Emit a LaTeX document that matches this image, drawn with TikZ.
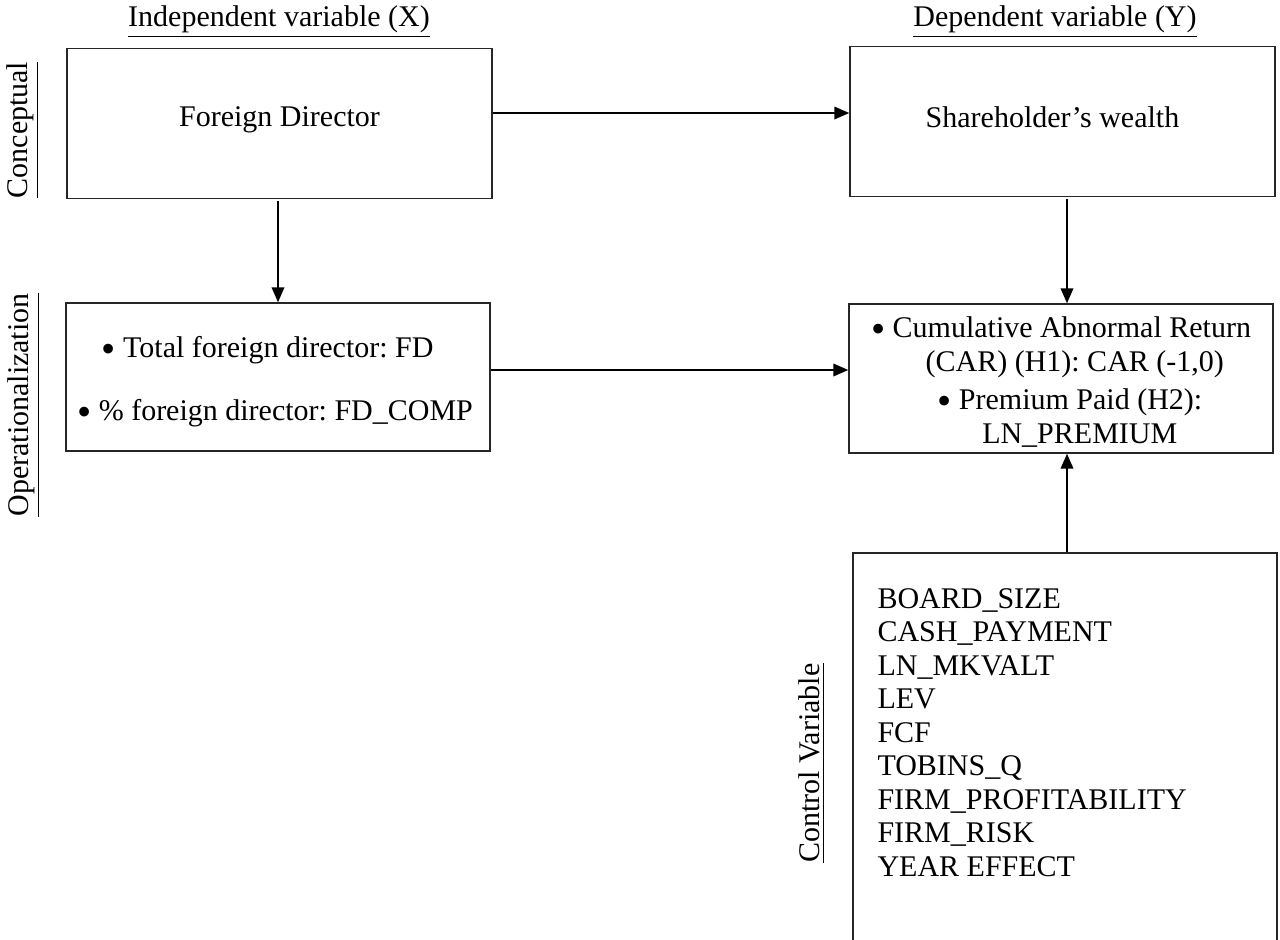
\documentclass[tikz,border=0pt]{standalone}
\usepackage{fontspec}
\usepackage{graphicx}
\setmainfont{Liberation Serif}
\usetikzlibrary{arrows.meta}
\newcommand{\bul}{\raisebox{-1.9pt}{\scalebox{1.35}{•}}}
\newcommand{\shiftv}[2]{\raisebox{#1}[\height][\depth]{#2}}
\begin{document}
\frenchspacing
\begin{tikzpicture}[x=0.4pt,y=-0.4pt,
  box/.style={draw=black!85,line width=0.55pt,inner sep=0pt,minimum width=170pt,minimum height=60pt,font=\fontsize{12}{13.6}\selectfont\frenchspacing,align=center},
  arr/.style={line width=0.8pt,-{Triangle[length=6pt,width=5pt]}},
  lbl/.style={font=\fontsize{12}{13.4}\selectfont\frenchspacing,inner sep=0pt},
]
\useasboundingbox (0,0) rectangle (1280,940);
\clip (0,0) rectangle (1280,940);

% headers
\node[lbl] (hX) at (279,22) {\underline{Independent variable (X)}};
\node[lbl] (hY) at (1055,22) {\underline{Dependent variable (Y)}};

% side labels
\node[lbl,rotate=90] (lC) at (23,130) {\underline{Conceptual}};
\node[lbl,rotate=90] (lO) at (24,405) {\underline{Operationalization}};
\node[lbl,rotate=90] (lV) at (812,763) {\underline{Control Variable}};

% boxes
\node[box] (FD) at (279.5,123.5) {\shiftv{1.6pt}{Foreign Director}};
\node[box] (SW) at (1062.5,121.5) {\shiftv{1.8pt}{Shareholder’s wealth\hspace*{8pt}}};
\node[box,minimum height=59.2pt,minimum width=169.6pt] (Op) at (278,377)
  {\shiftv{-2pt}{\begin{tabular}{@{}c@{}}
   \bul\ Total foreign director: FD\hspace*{8.4pt}\\[11.6pt]
   \bul\ \% foreign director: FD\_COMP\hspace*{2.4pt}\end{tabular}}};
\node[box,minimum height=59.6pt,minimum width=169.6pt] (CAR) at (1061,378.5)
  {\shiftv{-2pt}{\begin{tabular}{@{}c@{}}
   \bul\ Cumulative Abnormal Return\\
   \hspace*{11pt}(CAR) (H1): CAR (-1,0)\\[1.6pt]
   \hspace*{7pt}\bul\ Premium Paid (H2):\\
   \hspace*{15pt}LN\_PREMIUM\end{tabular}}};
\node[box,minimum height=178.8pt,minimum width=169.6pt] (Ctrl) at (1065,776.5) {};
\node[lbl,anchor=north west,align=left] (ctxt) at (877,588)
  {BOARD\_SIZE\\ CASH\_PAYMENT\\ LN\_MKVALT\\ LEV\\ FCF\\ TOBINS\_Q\\
   FIRM\_PROFITABILITY\\ FIRM\_RISK\\ YEAR EFFECT};

% helper coordinates
\coordinate (yA) at (0,113);
\coordinate (yB) at (0,370);
\coordinate (xL) at (278,0);
\coordinate (xR) at (1067,0);

% connectors
\draw[arr] (FD.east |- yA) -- (SW.west |- yA);
\draw[arr,shorten <=0.8pt] (FD.south -| xL) -- (Op.north -| xL);
\draw[arr,shorten <=0.8pt] (SW.south -| xR) -- (CAR.north -| xR);
\draw[arr] (Op.east |- yB) -- (CAR.west |- yB);
\draw[arr] (Ctrl.north -| xR) -- (CAR.south -| xR);
\end{tikzpicture}
\end{document}
